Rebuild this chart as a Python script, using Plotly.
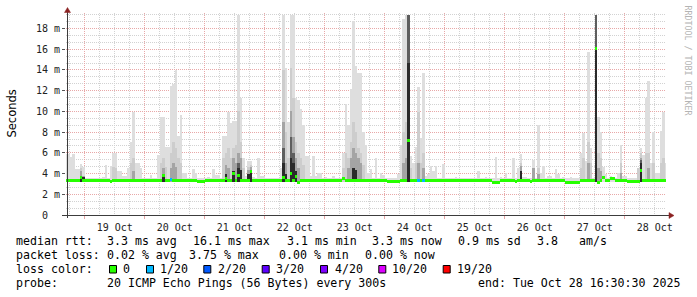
import plotly.graph_objects as go
from datetime import datetime, timedelta

# ---------------- data ----------------
START = datetime(2025, 10, 18, 16, 30)
END = datetime(2025, 10, 28, 16, 30)

# hourly consolidated values, index i is centred at START + i hours
max_ms = [
    5.9, 5.9, 5.6, 5.9, 4.4, 4.4, 4.9, 4.6, 3.6, 3.6, 3.6, 3.6, 3.6, 3.6, 3.6, 3.7, 4.8, 3.6, 4.7, 6.0, 6.0, 4.2, 4.2, 3.75,
    3.75, 4.5, 7.0, 9.9, 5.0, 5.0, 4.5, 3.6, 3.6, 3.6, 3.85, 3.6, 3.6, 5.8, 9.5, 9.5, 6.6, 6.6, 12.5, 12.6, 14.0, 7.6, 9.7, 4.1,
    4.1, 3.6, 3.6, 4.45, 4.1, 3.6, 3.6, 3.6, 3.6, 3.7, 3.6, 4.4, 3.85, 3.85, 3.6, 7.6, 7.6, 9.9, 8.9, 9.05, 9.05, 19.3, 11.3, 5.5,
    3.8, 5.2, 5.2, 3.7, 3.6, 5.5, 3.75, 3.75, 3.6, 3.6, 3.6, 3.6, 3.6, 3.6, 4.5, 19.3, 14.2, 9.0, 19.3, 19.3, 11.3, 11.1, 10.2, 8.7,
    5.7, 5.7, 3.75, 5.7, 3.75, 4.1, 4.1, 3.6, 3.7, 3.6, 3.6, 3.8, 3.6, 3.6, 3.6, 6.0, 10.7, 8.7, 12.2, 18.7, 14.4, 13.7, 13.7, 8.0,
    6.8, 4.1, 4.4, 3.6, 5.5, 3.6, 4.1, 3.9, 3.6, 3.6, 3.6, 3.6, 3.6, 4.0, 6.8, 18.9, 19.3, 19.3, 5.7, 5.0, 6.6, 12.4, 7.4, 13.7,
    3.75, 4.0, 4.7, 4.2, 4.7, 3.6, 3.6, 4.9, 3.6, 3.6, 3.6, 3.6, 3.7, 3.6, 3.6, 3.6, 3.6, 3.6, 3.6, 3.6, 3.6, 4.2, 3.6, 3.6,
    3.65, 3.6, 3.6, 3.6, 5.6, 3.6, 3.65, 3.6, 4.1, 3.6, 3.6, 5.5, 3.6, 4.5, 5.9, 3.65, 3.65, 3.6, 3.6, 5.3, 3.6, 8.7, 4.1, 4.7,
    3.6, 3.8, 3.8, 3.6, 4.4, 4.0, 3.6, 3.65, 3.6, 3.6, 3.65, 3.6, 3.6, 3.6, 6.0, 7.9, 5.2, 15.7, 6.5, 3.6, 19.3, 9.5, 8.0, 4.6,
    4.0, 3.6, 3.75, 3.65, 3.6, 4.07, 6.8, 3.75, 3.75, 3.6, 3.6, 3.6, 3.6, 3.6, 6.5, 5.8, 11.3, 12.9, 5.0, 8.0, 4.1, 4.1, 8.1, 9.9,
    5.0,
]

median_ms = [
    3.3, 3.3, 3.3, 3.3, 3.3, 3.3, 3.65, 3.3, 3.3, 3.3, 3.3, 3.3, 3.3, 3.3, 3.3, 3.3, 3.3, 3.3, 3.2, 3.3, 3.3, 3.3, 3.3, 3.3,
    3.3, 3.3, 3.3, 3.3, 3.3, 3.3, 3.3, 3.3, 3.3, 3.3, 3.3, 3.3, 3.3, 3.3, 3.3, 3.85, 3.3, 3.3, 3.4, 3.3, 3.3, 3.3, 3.3, 3.3,
    3.3, 3.3, 3.3, 3.3, 3.3, 3.2, 3.2, 3.2, 3.3, 3.3, 3.3, 3.3, 3.3, 3.3, 3.3, 3.3, 3.5, 3.3, 3.3, 4.0, 3.3, 3.85, 3.3, 3.3,
    3.3, 3.3, 4.17, 3.3, 3.3, 3.3, 3.3, 3.3, 3.3, 3.3, 3.3, 3.3, 3.3, 3.3, 3.3, 3.6, 3.3, 3.3, 4.0, 3.3, 3.75, 3.15, 3.3, 3.3,
    3.3, 3.3, 3.3, 3.3, 3.3, 3.3, 3.3, 3.3, 3.3, 3.3, 3.3, 3.3, 3.3, 3.3, 3.3, 3.5, 3.3, 3.3, 3.3, 3.3, 3.3, 3.3, 3.3, 3.3,
    3.3, 3.3, 3.3, 3.3, 3.3, 3.3, 3.3, 3.3, 3.3, 3.2, 3.2, 3.2, 3.2, 3.2, 3.3, 3.3, 3.3, 7.2, 3.3, 3.3, 3.3, 3.3, 3.3, 3.3,
    3.3, 3.3, 3.3, 3.3, 3.3, 3.3, 3.3, 3.3, 3.3, 3.3, 3.3, 3.3, 3.3, 3.3, 3.3, 3.3, 3.3, 3.3, 3.3, 3.3, 3.3, 3.3, 3.3, 3.3,
    3.3, 3.3, 3.3, 3.15, 3.15, 3.15, 3.3, 3.3, 3.3, 3.3, 3.3, 3.3, 3.2, 3.3, 3.3, 3.3, 3.3, 3.3, 3.2, 3.3, 3.3, 3.3, 3.3, 3.3,
    3.3, 3.3, 3.3, 3.3, 3.3, 3.3, 3.3, 3.3, 3.17, 3.17, 3.17, 3.17, 3.17, 3.17, 3.3, 3.3, 3.3, 3.3, 3.3, 3.3, 16.1, 3.1, 3.3, 3.6,
    3.3, 3.3, 3.5, 3.5, 3.3, 3.3, 3.3, 3.3, 3.3, 3.2, 3.2, 3.2, 3.2, 3.2, 4.3, 3.3, 3.3, 3.3, 3.3, 3.3, 3.3, 3.3, 3.3, 3.3,
    3.3,
]

# inner smoke layers (only hours where they rise visibly above the floor)
mid_hours = [6, 19, 20, 26, 27, 38, 39, 40, 42, 43, 44, 45, 46, 63, 64, 65, 66, 67, 68, 69, 70, 71, 73, 74,
             87, 88, 89, 90, 91, 92, 93, 94, 95, 111, 112, 113, 114, 115, 116, 117, 118, 119,
             135, 136, 137, 138, 140, 141, 142, 143, 182, 189, 206, 207, 209, 210, 212, 213, 214,
             222, 229, 230, 232, 233, 235, 238, 239]
mid_ms = [4.5, 4.6, 4.5, 5.0, 5.5, 5.0, 5.5, 4.6, 6.0, 7.0, 6.5, 5.5, 5.0, 5.5, 6.0, 6.5, 5.5, 6.5, 6.8, 10.0, 7.0, 4.5, 4.6, 4.8,
          14.0, 8.0, 5.5, 14.2, 11.3, 7.0, 6.0, 5.5, 4.8, 4.5, 6.0, 5.5, 7.0, 9.0, 8.0, 6.5, 6.0, 4.8,
          8.0, 9.0, 19.3, 4.5, 5.0, 9.9, 5.0, 6.0, 5.0, 4.5, 4.5, 5.5, 7.0, 5.0, 19.3, 6.0, 5.5,
          5.0, 4.5, 6.0, 6.0, 6.0, 5.0, 5.0, 5.5]

dark_hours = [6, 7, 27, 39, 42, 43, 44, 64, 65, 67, 68, 69, 70, 73, 74, 87, 88, 90, 91, 92, 93,
              113, 114, 115, 116, 117, 118, 135, 136, 137, 141, 143, 182, 187, 189, 209, 212,
              213, 214, 222, 230, 233]
dark_ms = [4.2, 3.8, 4.2, 4.5, 4.5, 5.0, 4.6, 4.8, 4.5, 5.5, 5.0, 6.0, 5.5, 4.3, 4.6, 9.0, 5.0, 10.0, 7.5, 5.5, 4.5,
           4.5, 5.5, 6.5, 6.0, 5.5, 5.0, 5.0, 5.5, 19.3, 5.0, 4.5, 4.7, 4.5, 4.0, 5.0, 19.3,
           4.5, 4.2, 4.1, 5.5, 4.5]

darker_hours = [69, 87, 90, 91, 137, 212, 230]
darker_ms = [5.0, 6.5, 7.5, 6.0, 19.3, 19.3, 5.3]

black_hours = [6, 7, 39, 64, 67, 69, 70, 73, 74, 87, 88, 90, 91, 92, 115, 116, 137, 182, 212, 230]
black_ms = [3.7, 3.7, 4.0, 4.0, 4.2, 4.5, 4.3, 4.0, 4.3, 5.0, 4.0, 5.5, 5.0, 4.2, 4.5, 4.3, 14.7, 4.2, 16.1, 5.0]

loss_hours = [42, 141, 143]
loss_pings = [1, 1, 1]
smoke_floor_ms = 3.15

y_tick_vals = [0, 2, 4, 6, 8, 10, 12, 14, 16, 18]
y_tick_text = ["0\u00a0\u00a0", "2 m", "4 m", "6 m", "8 m", "10 m", "12 m", "14 m", "16 m", "18 m"]

loss_level_labels = ["0", "1/20", "2/20", "3/20", "4/20", "10/20", "19/20"]
loss_level_pings = [0, 1, 2, 3, 4, 10, 19]
loss_level_colors = ["#26ff00", "#00b8ff", "#0059ff", "#5e00ff", "#7e00ff", "#dd00ff", "#ff0000"]

rtt_stats = ["3.3 ms avg", "16.1 ms max", "3.1 ms min", "3.3 ms now", "0.9 ms sd", "3.8", "am/s"]
loss_stats = ["0.02 % avg", "3.75 % max", "0.00 % min", "0.00 % now"]
probe_text = "20 ICMP Echo Pings (56 Bytes) every 300s"
end_text = "end: Tue Oct 28 16:30:30 2025"

# ---------------- layout helpers ----------------
W, H = 697, 297
PL, PR, PT, PB = 66, 666, 13, 215


def px(x):
    return (x - PL) / (PR - PL)


def py(y):
    return (PB - y) / (PB - PT)


def expand(hours, vals, n, default):
    out = [default] * n
    for h, v in zip(hours, vals):
        out[h] = v
    return out


n = len(max_ms)
times = [START + timedelta(hours=i) for i in range(n)]
HOUR_MS = 3600 * 1000

layers = [
    (max_ms, "#dedede"),
    (expand(mid_hours, mid_ms, n, smoke_floor_ms), "#cdcdcd"),
    (expand(dark_hours, dark_ms, n, smoke_floor_ms), "#a4a4a4"),
    (expand(darker_hours, darker_ms, n, smoke_floor_ms), "#5e5e5e"),
    (expand(black_hours, black_ms, n, smoke_floor_ms), "#2a2a2a"),
]

fig = go.Figure()
for vals, col in layers:
    fig.add_trace(go.Bar(
        x=times, y=[max(v - smoke_floor_ms, 0) for v in vals], base=smoke_floor_ms,
        width=HOUR_MS, marker=dict(color=col, line=dict(width=0)),
        hoverinfo="skip", showlegend=False))

loss_full = expand(loss_hours, loss_pings, n, 0)
color_of = dict(zip(loss_level_pings, loss_level_colors))
THICK = 0.29
fig.add_trace(go.Bar(
    x=times, y=[THICK] * n, base=[m - THICK / 2 for m in median_ms],
    width=HOUR_MS, marker=dict(color=[color_of[l] for l in loss_full], line=dict(width=0)),
    hoverinfo="skip", showlegend=False))

RED = "#e8a8a8"
GRAY = "#d2d2d2"
fig.update_layout(
    width=W, height=H, autosize=False,
    margin=dict(l=PL, r=W - PR, t=PT, b=H - PB, pad=0),
    paper_bgcolor="white", plot_bgcolor="white",
    barmode="overlay", bargap=0,
    showlegend=False,
    font=dict(family="DejaVu Sans Mono", size=10, color="#222"),
    xaxis=dict(
        type="date", range=[START, END],
        tick0="2025-10-19", dtick=86400000, tickformat="%d %b", ticklabelmode="period",
        showgrid=True, gridcolor=RED, griddash="1px,1px", gridwidth=1,
        ticks="outside", ticklen=3, tickcolor=RED,
        minor=dict(dtick=6 * 3600000, showgrid=True, gridcolor=GRAY, griddash="1px,1px", gridwidth=1),
        showline=False, zeroline=False,
        tickfont=dict(family="DejaVu Sans Mono", size=10, color="#222"),
    ),
    yaxis=dict(
        range=[0, 19.5], tickmode="array", tickvals=y_tick_vals, ticktext=y_tick_text,
        showgrid=True, gridcolor=RED, griddash="1px,1px", gridwidth=1,
        ticks="outside", ticklen=3, tickcolor="#555",
        minor=dict(tickmode="linear", tick0=0, dtick=2 / 3, showgrid=True, gridcolor=GRAY,
                   griddash="1px,1px", gridwidth=1),
        showline=False, zeroline=False,
        tickfont=dict(family="DejaVu Sans Mono", size=10, color="#222"),
    ),
)

# axis lines with arrows
AX = "#3c3c3c"
ARROW = "#8b2222"
shapes = [
    dict(type="line", xref="paper", yref="paper", x0=px(67.5), x1=px(67.5), y0=py(218), y1=py(12),
         line=dict(color=AX, width=1), layer="above"),
    dict(type="line", xref="paper", yref="paper", x0=px(62), x1=px(669), y0=py(215.5), y1=py(215.5),
         line=dict(color=AX, width=1), layer="above"),
    dict(type="path", xref="paper", yref="paper",
         path=f"M {px(64.5)} {py(12.5)} L {px(70.5)} {py(12.5)} L {px(67.5)} {py(7.5)} Z",
         fillcolor=ARROW, line=dict(color=ARROW, width=0.5), layer="above"),
    dict(type="path", xref="paper", yref="paper",
         path=f"M {px(669)} {py(212.5)} L {px(669)} {py(218.5)} L {px(674)} {py(215.5)} Z",
         fillcolor=ARROW, line=dict(color=ARROW, width=0.5), layer="above"),
]

box_x = [109, 146, 203.3, 261.7, 320, 378.3, 442.7]
for bx, col in zip(box_x, loss_level_colors):
    shapes.append(dict(type="rect", xref="paper", yref="paper",
                       x0=px(bx + 0.5), x1=px(bx + 7.5), y0=py(265.5), y1=py(273),
                       fillcolor=col, line=dict(color="#000", width=1)))
fig.update_layout(shapes=shapes)


def text(x, y, s, size=11.6, color="#000", anchor="left", angle=0, family="DejaVu Sans Mono"):
    return dict(x=px(x), y=py(y), xref="paper", yref="paper", text=s, showarrow=False,
                xanchor=anchor, yanchor="middle", textangle=angle, borderpad=0,
                font=dict(family=family, size=size, color=color))


ann = []
ann.append(text(11, 113.5, "Seconds", size=11.5, anchor="center", angle=-90, family="DejaVu Sans"))
ann.append(text(687.5, 60, "RRDTOOL / TOBI OETIKER", size=8.3, color="#b4b4b4", anchor="center", angle=90))

R1, R2, R3, R4 = 241.5, 255, 269, 282.5
ann.append(text(15, R1, "median rtt:"))
for s, x in zip(rtt_stats, [107.3, 193.3, 286.7, 372.3, 458.3, 536.7, 579.3]):
    ann.append(text(x - 1, R1, s))
ann.append(text(15, R2, "packet loss:"))
for s, x in zip(loss_stats, [107.3, 189.3, 279.3, 365]):
    ann.append(text(x - 1, R2, s))
ann.append(text(15, R3, "loss color:"))
for s, x in zip(loss_level_labels, [123.3, 160, 218.3, 276, 334.7, 392.3, 456.7]):
    ann.append(text(x - 1, R3, s))
ann.append(text(15, R4, "probe:"))
ann.append(text(106.3, R4, probe_text))
ann.append(text(477.3, R4, end_text))
fig.update_layout(annotations=ann)

fig.write_html("out.html")
